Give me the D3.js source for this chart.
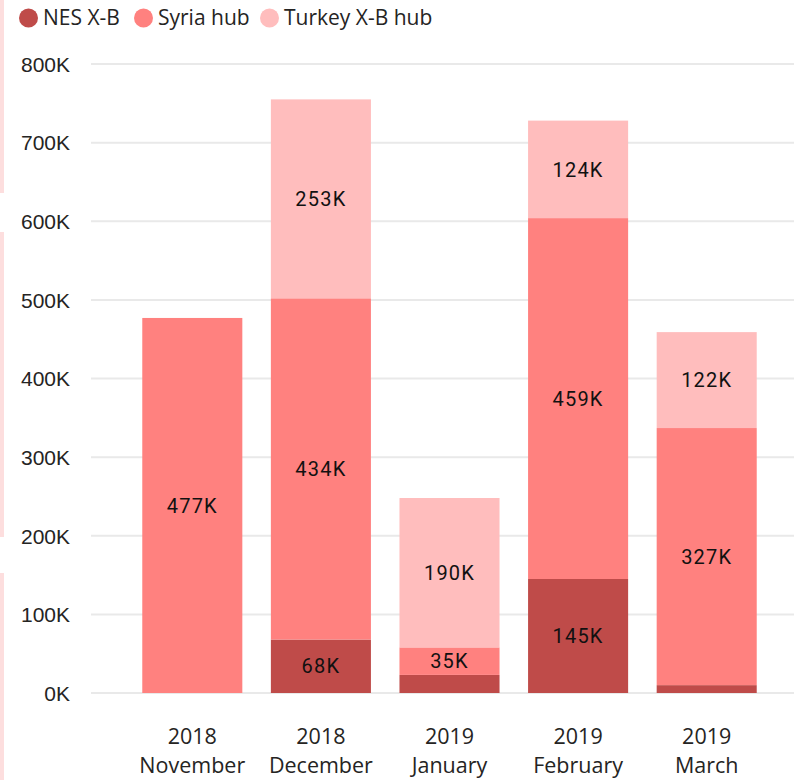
<!DOCTYPE html>
<html lang="en">
<head>
<meta charset="utf-8">
<title>Stacked bars by month</title>
<script src="https://d3js.org/d3.v7.min.js"></script>
<style>
  body { margin: 0; font-family: 'Open Sans', 'DejaVu Sans', sans-serif; background: #fff; }
  .axis text { font-size: 21px; fill: #252423; }
  .xaxis text { font-size: 21.5px; fill: #252423; }
  .lab { font-family: Roboto, 'DejaVu Sans', sans-serif; font-size: 20px; fill: #111; letter-spacing: 1.2px; }
</style>
</head>
<body>
<div id="chart"></div>
<script>

/* Data */
var years = ['2018', '2018', '2019', '2019', '2019'];
var months = ['November', 'December', 'January', 'February', 'March'];
var series = ['NES X-B', 'Syria hub', 'Turkey X-B hub'];
var nesXB = [0, 68, 23, 145, 10];
var syriaHub = [477, 434, 35, 459, 327];
var turkeyHub = [0, 253, 190, 124, 122];
var yTicks = [0, 100, 200, 300, 400, 500, 600, 700, 800];
var colors = ['#BF4B49', '#FF817F', '#FFBDBD'];

var width = 794, height = 780;

var svg = d3.select('#chart').append('svg')
    .attr('width', width)
    .attr('height', height);

// thin pink strips at the left edge of the page
var strips = [[0, 193], [232, 537], [573, 780]];
svg.selectAll('rect.strip').data(strips).join('rect')
    .attr('x', 0).attr('width', 4)
    .attr('y', d => d[0]).attr('height', d => d[1] - d[0])
    .attr('fill', '#FDDEDE');

var rows = months.map(function(m, i) {
  return { key: i, 'NES X-B': nesXB[i], 'Syria hub': syriaHub[i], 'Turkey X-B hub': turkeyHub[i] };
});

var stack = d3.stack().keys(series)(rows);

var x = d3.scaleBand()
    .domain(d3.range(months.length))
    .range([128, 771])
    .paddingInner(0.222)
    .paddingOuter(0.111);

var y = d3.scaleLinear()
    .domain([0, 800])
    .range([693, 64]);

// gridlines
svg.append('g')
  .selectAll('line').data(yTicks).join('line')
    .attr('x1', 91).attr('x2', width)
    .attr('y1', d => y(d)).attr('y2', d => y(d))
    .attr('stroke', '#E9E9E9').attr('stroke-width', 2);

// y axis labels
var yAxis = d3.axisLeft(y).tickValues(yTicks).tickFormat(d => d + 'K').tickSize(0).tickPadding(0);
svg.append('g').attr('class', 'axis')
    .attr('transform', 'translate(70,0)')
    .call(yAxis)
    .call(g => g.select('.domain').remove())
    .selectAll('text').attr('dy', '0.35em').attr('font-size', null).attr('font-family', null);

// bars
var layers = svg.append('g').selectAll('g').data(stack).join('g')
    .attr('fill', (d, i) => colors[i]);

layers.selectAll('rect').data(d => d).join('rect')
    .attr('x', (d, i) => x(i))
    .attr('width', x.bandwidth())
    .attr('y', d => y(d[1]))
    .attr('height', d => y(d[0]) - y(d[1]));

// value labels
layers.each(function(layer) {
  d3.select(this).selectAll('text').data(layer.filter(d => (d[1] - d[0]) >= 30)).join('text')
    .attr('class', 'lab')
    .attr('text-anchor', 'middle')
    .attr('x', d => x(d.data.key) + x.bandwidth() / 2)
    .attr('y', d => (y(d[0]) + y(d[1])) / 2)
    .attr('dy', '0.36em')
    .text(d => Math.round(d[1] - d[0]) + 'K');
});

// x axis labels
var xl = svg.append('g').attr('class', 'xaxis');
months.forEach(function(m, i) {
  var cx = x(i) + x.bandwidth() / 2;
  var t = xl.append('text').attr('text-anchor', 'middle').attr('x', cx);
  t.append('tspan').attr('x', cx).attr('y', 744).text(years[i]);
  t.append('tspan').attr('x', cx).attr('y', 773).text(m);
});

// legend
var legend = svg.append('g').attr('class', 'axis');
var lx = [19, 134, 260];
series.forEach(function(s, i) {
  legend.append('circle').attr('cx', lx[i] + 9.5).attr('cy', 18).attr('r', 9.5).attr('fill', colors[i]);
  legend.append('text').attr('x', lx[i] + 24).attr('y', 18).attr('dy', '0.35em').text(s);
});

</script>
</body>
</html>
